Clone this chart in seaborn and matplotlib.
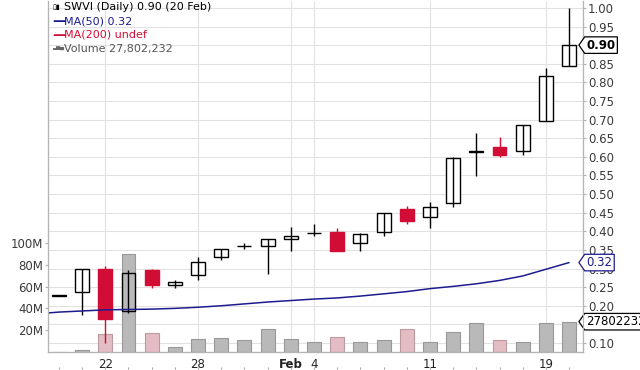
import numpy as np
import pandas as pd
import matplotlib
matplotlib.use('Agg')
import matplotlib.pyplot as plt
import matplotlib.transforms as mtransforms
from matplotlib.path import Path
import seaborn as sns

# daily prices (Jan 17 .. Feb 20)
days = ['Jan 17', 'Jan 18', 'Jan 22', 'Jan 23', 'Jan 24', 'Jan 25', 'Jan 28', 'Jan 29',
        'Jan 30', 'Jan 31', 'Feb 1', 'Feb 4', 'Feb 5', 'Feb 6', 'Feb 7', 'Feb 8',
        'Feb 11', 'Feb 12', 'Feb 13', 'Feb 14', 'Feb 15', 'Feb 19', 'Feb 20']
opens = [0.227, 0.237, 0.298, 0.187, 0.296, 0.256, 0.283, 0.330, 0.360, 0.361, 0.379, 0.395,
         0.399, 0.368, 0.397, 0.460, 0.438, 0.475, 0.614, 0.627, 0.616, 0.697, 0.845]
highs = [0.227, 0.298, 0.308, 0.296, 0.298, 0.269, 0.330, 0.352, 0.368, 0.379, 0.412, 0.420,
         0.410, 0.396, 0.448, 0.469, 0.480, 0.600, 0.665, 0.652, 0.685, 0.838, 1.000]
lows = [0.227, 0.175, 0.099, 0.181, 0.247, 0.249, 0.269, 0.323, 0.352, 0.285, 0.348, 0.388,
        0.347, 0.347, 0.388, 0.419, 0.408, 0.465, 0.549, 0.600, 0.605, 0.697, 0.845]
closes = [0.227, 0.298, 0.165, 0.288, 0.256, 0.265, 0.318, 0.352, 0.361, 0.379, 0.388, 0.396,
          0.347, 0.392, 0.448, 0.428, 0.466, 0.596, 0.615, 0.605, 0.685, 0.817, 0.900]
volume_m = [0.0, 1.5, 16.5, 90.0, 17.4, 4.9, 11.9, 13.1, 10.7, 21.1, 11.9, 9.5,
            14.0, 9.2, 10.7, 21.1, 9.5, 18.7, 26.3, 10.7, 9.2, 26.5, 27.8]
last_volume = 27802232

# 50-day moving average, starting one session earlier (Jan 16)
ma_days = ['Jan 16'] + days
ma50 = [0.178, 0.183, 0.186, 0.189, 0.190, 0.191, 0.193, 0.196, 0.200, 0.205, 0.210, 0.214,
        0.218, 0.221, 0.226, 0.232, 0.238, 0.246, 0.252, 0.259, 0.268, 0.280, 0.298, 0.316]

# date axis: week starts plus the month start (Feb 1, labelled in bold)
tick_days = ['Jan 22', 'Jan 28', 'Feb 1', 'Feb 4', 'Feb 11', 'Feb 19']
tick_labels = ['22', '28', 'Feb', '4', '11', '19']
month_label = 'Feb'

x = np.arange(len(days))
ma_x = np.arange(len(ma_days)) - 1
up = np.array(closes) >= np.array(opens)

sns.set_style('white')
plt.rcParams['font.family'] = ['DejaVu Sans']

RED = '#d10c35'
NAVY = '#1c1c8e'
GRID = '#e2e2e2'
SPINE = '#b4b4b4'

fig = plt.figure(figsize=(6.4, 3.7), dpi=100)
ax = fig.add_axes([48 / 640, 18 / 370, 535 / 640, 351 / 370])   # price: grid + white bodies
ax_vol = ax.twinx()                                               # volume bars
ax_top = ax.twinx()                                               # candle outlines, wicks, MA

# volume bars
vol_df = pd.DataFrame({'x': x, 'vol': volume_m, 'dir': np.where(up, 'up', 'down')})
sns.barplot(data=vol_df, x='x', y='vol', hue='dir', native_scale=True, dodge=False,
            palette={'up': '#b9b9b9', 'down': '#ebb5bf'}, width=0.6, legend=False,
            linewidth=0.8, ax=ax_vol)
for p in ax_vol.patches:
    fc = p.get_facecolor()
    p.set_edgecolor(tuple(c * 0.82 for c in fc[:3]))

# candle bodies
body_lo = np.minimum(opens, closes)
body_h = np.maximum(np.abs(np.array(closes) - np.array(opens)), 0.0008)
ax.bar(x[up], body_h[up], bottom=body_lo[up], width=0.6, color='white', linewidth=0)
ax_top.vlines(x[up], np.array(lows)[up], np.array(highs)[up], color='black', lw=1.0)
ax_top.vlines(x[~up], np.array(lows)[~up], np.array(highs)[~up], color=RED, lw=1.0)
ax_top.bar(x[up], body_h[up], bottom=body_lo[up], width=0.6, facecolor='none',
           edgecolor='black', linewidth=1.0)
ax_top.bar(x[~up], body_h[~up], bottom=body_lo[~up], width=0.6, facecolor=RED,
           edgecolor=RED, linewidth=1.0)

sns.lineplot(x=ma_x, y=ma50, color=NAVY, lw=1.1, ax=ax_top)

# axes limits
for a in (ax, ax_top):
    a.set_ylim(0.0758, 1.0185)
    a.set_xlim(-0.47, 22.6)
ax_vol.set_ylim(0, 322)

# price axis (right)
ax.yaxis.tick_right()
ax.set_yticks(np.arange(0.10, 1.001, 0.05))
ax.yaxis.set_major_formatter(matplotlib.ticker.FormatStrFormatter('%.2f'))
ax.tick_params(axis='y', right=True, length=2, width=0.8, color=SPINE, pad=1.5,
               labelsize=8.5, labelcolor='#3a3a3a')
tick_pos = [days.index(d) for d in tick_days]
ax.set_xticks(tick_pos)
ax.set_xticklabels(tick_labels)
for t in ax.get_xticklabels():
    if t.get_text() == month_label:
        t.set_fontweight('bold')
ax.tick_params(axis='x', length=0, pad=4.5, labelsize=8.5, labelcolor='#222222')
ax.grid(True, color=GRID, lw=0.8)
ax.set_axisbelow(True)

# volume axis (left)
ax_vol.yaxis.set_ticks_position('left')
ax_vol.set_yticks([20, 40, 60, 80, 100])
ax_vol.set_yticklabels(['20M', '40M', '60M', '80M', '100M'])
ax_vol.tick_params(axis='y', left=True, right=False, length=2, width=0.8, color=SPINE,
                   pad=1.5, labelsize=8.5, labelcolor='#3a3a3a')
ax_vol.set_xlabel('')
ax_vol.set_ylabel('')

ax_top.set_yticks([])
ax_top.set_ylabel('')

for a in (ax, ax_vol, ax_top):
    a.spines['top'].set_visible(False)
    for s in ('left', 'right', 'bottom'):
        a.spines[s].set_color(SPINE)
        a.spines[s].set_linewidth(0.8)

# small day marks under the date labels
marks = mtransforms.blended_transform_factory(ax.transData, ax.transAxes)
ax.plot(x, np.full(len(x), -0.046), ls='none', marker='|', ms=2, mew=0.7,
        color='#999999', transform=marks, clip_on=False)


# price tag shape: box with a point on the left
def tag_box(x0, y0, width, height, mutation_size):
    pad = 0.15 * mutation_size
    x0, y0 = x0 - pad, y0 - pad
    w, h = width + 2 * pad, height + 2 * pad
    tip = h * 0.35
    verts = [(x0 - tip, y0 + h / 2), (x0, y0), (x0 + w, y0), (x0 + w, y0 + h),
             (x0, y0 + h), (x0 - tip, y0 + h / 2)]
    return Path(verts, closed=True)


ax_top.annotate(f'{closes[-1]:.2f}', xy=(1, closes[-1]), xycoords=('axes fraction', 'data'),
                xytext=(2.5, 0), textcoords='offset points', va='center', ha='left',
                fontsize=8.5, fontweight='bold', color='black', annotation_clip=False,
                bbox=dict(boxstyle=tag_box, fc='white', ec='black', lw=0.9))
ax_top.annotate(f'{ma50[-1]:.2f}', xy=(1, ma50[-1]), xycoords=('axes fraction', 'data'),
                xytext=(2.5, 0), textcoords='offset points', va='center', ha='left',
                fontsize=8.5, color=NAVY, annotation_clip=False,
                bbox=dict(boxstyle=tag_box, fc='white', ec=NAVY, lw=0.9))
ax_vol.annotate(f'{last_volume}', xy=(1, volume_m[-1]), xycoords=('axes fraction', 'data'),
                xytext=(2.5, 0), textcoords='offset points', va='center', ha='left',
                fontsize=8.5, color='black', annotation_clip=False,
                bbox=dict(boxstyle=tag_box, fc='white', ec='black', lw=0.9))

# legend block, top left
legend_rows = [
    ('▯▮', 5, 'SWVI (Daily) 0.90 (20 Feb)', 'black', 'black'),
    ('—', 10, 'MA(50) 0.32', NAVY, NAVY),
    ('—', 10, 'MA(200) undef', RED, RED),
    ('▃▆▅', 3.8, 'Volume 27,802,232', '#666666', '#555555'),
]
for i, (icon, isize, label, icol, tcol) in enumerate(legend_rows):
    dy = -4.6 - i * 9.9
    ax_top.annotate(icon, xy=(0, 1), xycoords='axes fraction', xytext=(3, dy),
                    textcoords='offset points', va='center', ha='left', fontsize=isize,
                    fontweight='bold', color=icol)
    ax_top.annotate(label, xy=(0, 1), xycoords='axes fraction', xytext=(11.5, dy),
                    textcoords='offset points', va='center', ha='left', fontsize=8,
                    color=tcol)

fig.savefig('out.png', dpi=100)
